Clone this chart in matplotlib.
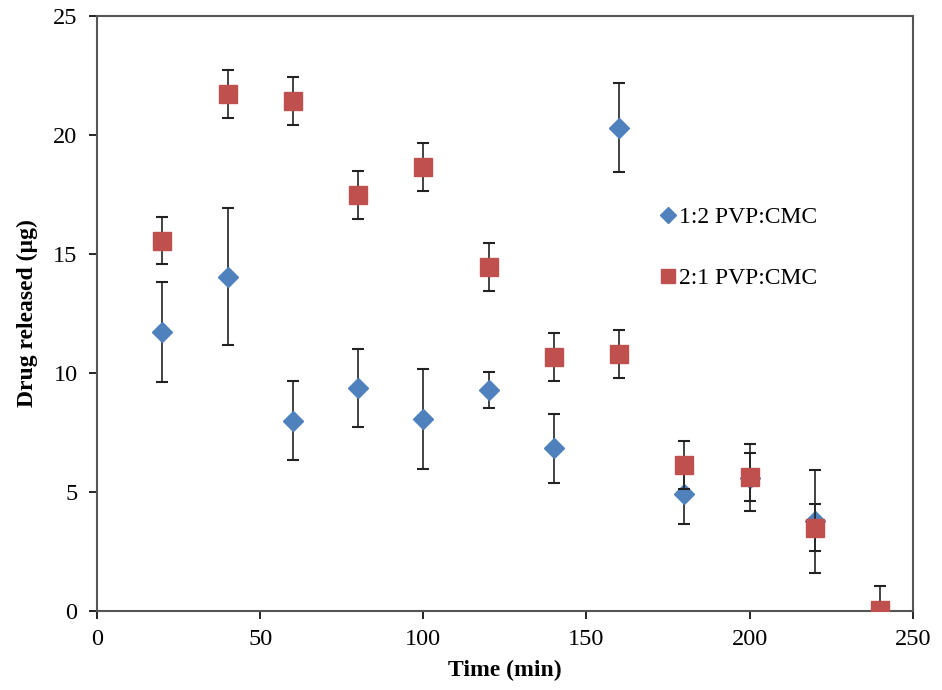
import numpy as np
import matplotlib.pyplot as plt

plt.rcParams['font.family'] = ['Liberation Serif', 'DejaVu Serif']

# time points (min)
time_blue = [20, 40, 60, 80, 100, 120, 140, 160, 180, 200, 220]
time_red = [20, 40, 60, 80, 100, 120, 140, 160, 180, 200, 220, 240]

# 1:2 PVP:CMC
blue_vals = [11.72, 14.05, 8.0, 9.38, 8.08, 9.29, 6.83, 20.31, 4.9, 5.6, 3.77]
blue_err = [2.08, 2.88, 1.66, 1.63, 2.1, 0.75, 1.45, 1.86, 1.25, 1.4, 2.17]

# 2:1 PVP:CMC
red_vals = [15.56, 21.72, 21.43, 17.47, 18.64, 14.44, 10.66, 10.8, 6.13, 5.62, 3.5, 0.05]
red_err = [1.0, 1.0, 1.0, 1.0, 1.0, 1.0, 1.0, 1.0, 1.0, 1.0, 1.0, 1.0]

fig = plt.figure(figsize=(9.42, 6.9), dpi=100)
ax = fig.add_axes([0.103, 0.1145, 0.866, 0.8625])

ax.errorbar(time_blue, blue_vals, yerr=blue_err, fmt='D', color='#4f81bd',
            markersize=10, ecolor='#222222', elinewidth=1.2, capsize=4,
            capthick=1.5, label='1:2 PVP:CMC', zorder=3)
ax.errorbar(time_red, red_vals, yerr=red_err, fmt='s', color='#c0504d',
            markersize=13, ecolor='#222222', elinewidth=1.2, capsize=4,
            capthick=1.5, label='2:1 PVP:CMC', zorder=4)

ax.set_xlim(0, 250)
ax.set_ylim(0, 25)
ax.set_xticks([0, 50, 100, 150, 200, 250])
ax.set_yticks([0, 5, 10, 15, 20, 25])
ax.tick_params(labelsize=17.5, direction='out', length=6, width=1.2, top=False, right=False)
ax.tick_params(axis='x', pad=7)
ax.tick_params(axis='y', pad=8)
for s in ax.spines.values():
    s.set_color('#555555')
    s.set_linewidth(1.5)

ax.set_xlabel('Time (min)', fontsize=17, fontweight='bold', labelpad=7)
ax.set_ylabel('Drug released (µg)', fontsize=17, fontweight='bold', labelpad=11)

handles, labels = ax.get_legend_handles_labels()
handles = [h[0] for h in handles]
ax.legend(handles, labels, loc='upper left', bbox_to_anchor=(0.685, 0.679),
          frameon=False, fontsize=17, handletextpad=0.0, labelspacing=1.65,
          markerscale=0.8, handlelength=1.0, borderpad=0, borderaxespad=0)

fig.savefig('out.png', dpi=100)
